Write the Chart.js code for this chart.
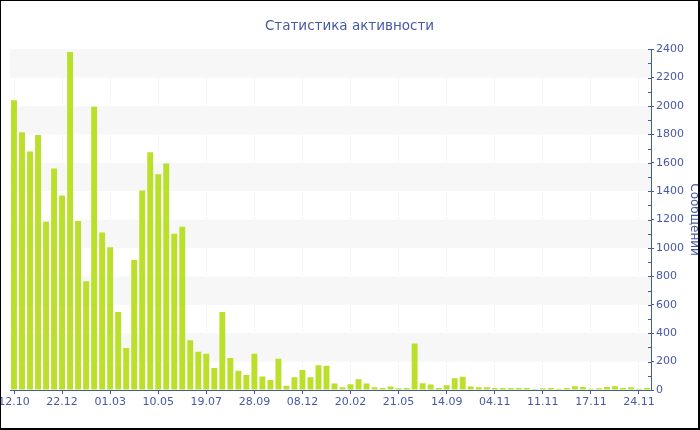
<!DOCTYPE html>
<html>
<head>
<meta charset="utf-8">
<script src="https://cdn.jsdelivr.net/npm/chart.js@4.4.0/dist/chart.umd.min.js"></script>
<style>
  html, body { margin: 0; padding: 0; background: #fff; }
  #wrap {
    width: 700px; height: 430px; box-sizing: border-box;
    border-left: 1px solid #000; border-top: 1px solid #000;
    border-right: 2px solid #000; border-bottom: 2px solid #000;
    background: #fff;
  }
  #wrap canvas { display: block; }
</style>
</head>
<body>
<div id="wrap"><canvas id="activity" width="697" height="427"></canvas></div>
<script>
// dates (only every 6th is shown on the axis)
const dates = [
    '12.10', '24.10', '05.11', '17.11', '29.11', '10.12',
    '22.12', '03.01', '14.01', '26.01', '06.02', '18.02',
    '01.03', '13.03', '24.03', '05.04', '17.04', '28.04',
    '10.05', '22.05', '02.06', '14.06', '26.06', '07.07',
    '19.07', '31.07', '12.08', '23.08', '04.09', '16.09',
    '28.09', '10.10', '21.10', '02.11', '14.11', '26.11',
    '08.12', '20.12', '01.01', '13.01', '26.01', '07.02',
    '20.02', '07.03', '22.03', '06.04', '21.04', '06.05',
    '21.05', '10.06', '29.06', '19.07', '07.08', '27.08',
    '14.09', '23.09', '01.10', '10.10', '18.10', '27.10',
    '04.11', '05.11', '06.11', '07.11', '08.11', '09.11',
    '11.11', '12.11', '13.11', '14.11', '15.11', '16.11',
    '17.11', '18.11', '19.11', '20.11', '21.11', '22.11',
    '24.11', '25.11'
];

const messages = [
    2040, 1815, 1680, 1795, 1185, 1560,
    1370, 2380, 1190, 765, 1995, 1110,
    1005, 550, 295, 915, 1405, 1675,
    1520, 1595, 1100, 1150, 350, 270,
    255, 155, 550, 225, 135, 105,
    255, 95, 70, 220, 30, 90,
    140, 90, 175, 170, 45, 20,
    40, 75, 45, 20, 14, 24,
    12, 14, 327, 47, 38, 14,
    33, 82, 94, 24, 19, 19,
    14, 14, 14, 14, 14, 7,
    12, 14, 9, 14, 26, 21,
    9, 12, 21, 26, 14, 19,
    9, 14
];

const yTicks = [0, 200, 400, 600, 800, 1000, 1200, 1400, 1600, 1800, 2000, 2200, 2400];

const blue = '#4758a4';
const font = "'DejaVu Sans', Verdana, sans-serif";

// alternating grey bands + minor ticks on the value axis
const bands = {
    id: 'bands',
    beforeDatasetsDraw(chart) {
        const {ctx, chartArea, scales: {y}} = chart;
        ctx.save();
        ctx.fillStyle = '#f7f7f7';
        for (let i = 1; i < yTicks.length - 1; i += 2) {
            const top = y.getPixelForValue(yTicks[i + 1]);
            const bot = y.getPixelForValue(yTicks[i]);
            ctx.fillRect(chartArea.left, top, chartArea.right - chartArea.left, bot - top);
        }
        ctx.restore();
    },
    afterDraw(chart) {
        const {ctx, chartArea, scales: {y}} = chart;
        ctx.save();
        ctx.strokeStyle = blue;
        ctx.lineWidth = 1;
        ctx.beginPath();
        for (let v = 0; v <= 2400; v += 100) {
            const py = Math.round(y.getPixelForValue(v)) + 0.5;
            ctx.moveTo(chartArea.right - 3, py);
            ctx.lineTo(chartArea.right, py);
        }
        ctx.stroke();
        ctx.restore();
    }
};

const ctx = document.getElementById('activity').getContext('2d');
const chart = new Chart(ctx, {
    type: 'bar',
    data: {
        labels: dates,
        datasets: [{
            label: 'Сообщений',
            data: messages,
            backgroundColor: '#bbe02c',
            borderWidth: 0,
            barPercentage: 0.74,
            categoryPercentage: 1
        }]
    },
    options: {
        responsive: false,
        animation: false,
        layout: { padding: { left: 9, right: 9, top: 0, bottom: 18 } },
        plugins: {
            legend: { display: false },
            tooltip: { enabled: false },
            title: {
                display: true,
                text: 'Статистика активности',
                color: blue,
                font: { family: font, size: 13.5, weight: 'normal' },
                padding: { top: 17, bottom: 15 }
            }
        },
        scales: {
            x: {
                grid: {
                    color: '#f1f1f1',
                    tickColor: blue,
                    tickLength: 4,
                    offset: false
                },
                border: { color: blue, width: 1, dash: [2, 2] },
                ticks: {
                    autoSkip: false,
                    maxRotation: 0,
                    padding: 2,
                    color: blue,
                    font: { family: font, size: 11 },
                    callback: function(value, index) {
                        return index % 6 === 0 ? dates[index] : null;
                    }
                },
                afterFit: function(scale) {
                    scale.paddingLeft = 0;
                    scale.paddingRight = 0;
                    scale.height = 20;
                }
            },
            y: {
                position: 'right',
                min: 0,
                max: 2400,
                grid: {
                    drawOnChartArea: false,
                    color: blue,
                    tickLength: 3
                },
                border: { color: blue, width: 1 },
                ticks: {
                    stepSize: 200,
                    padding: 2,
                    color: blue,
                    font: { family: font, size: 11 },
                    callback: function(value) {
                        return String(value);
                    }
                },
                title: {
                    display: true,
                    text: 'Сообщений',
                    color: blue,
                    font: { family: font, size: 12 },
                    padding: { top: -12, bottom: 0 }
                },
                afterFit: function(scale) {
                    scale.width = 38;
                    scale.paddingTop = 0;
                    scale.paddingBottom = 0;
                }
            }
        }
    },
    plugins: [bands]
});
</script>
</body>
</html>
